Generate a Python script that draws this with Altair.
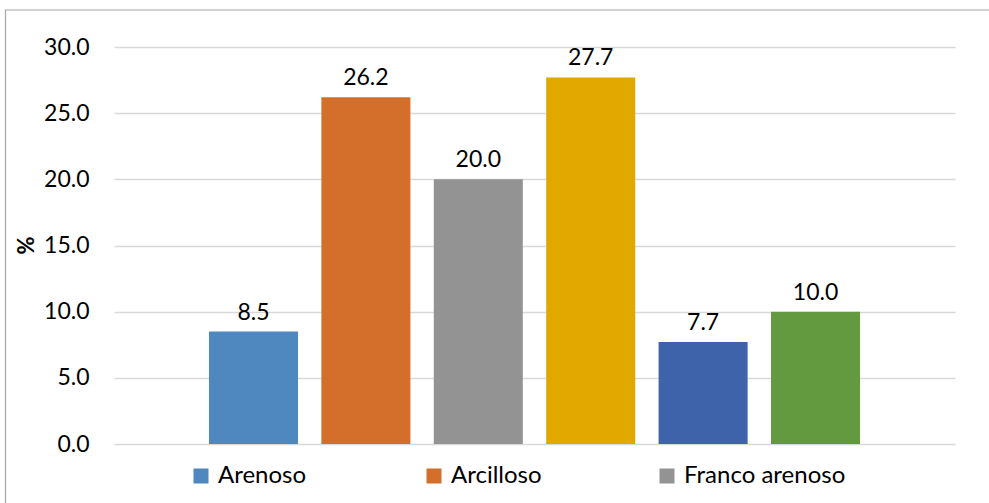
import altair as alt
import pandas as pd

# Soil texture shares (%)
series = ["Arenoso", "Arcilloso", "Franco arenoso", "Franco", "Franco arcilloso", "Franco limoso"]
values = [8.5, 26.2, 20.0, 27.7, 7.7, 10.0]
colors = ["#4f88bf", "#d36e2b", "#939393", "#e2a800", "#3e63ab", "#639a3f"]
legend_entries = ["Arenoso", "Arcilloso", "Franco arenoso"]
y_ticks = [0, 5, 10, 15, 20, 25, 30]

df = pd.DataFrame({
    "serie": series,
    "pct": values,
    "etiqueta": [f"{v:.1f}" for v in values],
})

FONT = "Lato"
FS = 23
LEG_FS = 24

x_enc = alt.X(
    "serie:N",
    sort=series,
    axis=None,
    scale=alt.Scale(paddingInner=0.208, paddingOuter=0.845),
)
y_scale = alt.Scale(domain=[0, 30], nice=False, zero=True)

bars = alt.Chart(df).mark_bar().encode(
    x=x_enc,
    y=alt.Y(
        "pct:Q",
        scale=y_scale,
        axis=alt.Axis(
            values=y_ticks,
            format=".1f",
            title="%",
            titleAngle=270,
            titleX=-88,
            titleY=198,
            titleAlign="center",
            titleBaseline="middle",
            titleFont=FONT,
            titleFontSize=22,
            titleFontWeight="bold",
            titleColor="black",
            domain=False,
            ticks=False,
            tickSize=0,
            labelPadding=25,
            labelFont=FONT,
            labelFontSize=FS,
            labelColor="black",
            gridColor="#d9d9d9",
            gridWidth=1.6,
        ),
    ),
    color=alt.Color(
        "serie:N",
        sort=series,
        scale=alt.Scale(domain=series, range=colors),
        legend=alt.Legend(
            title=None,
            values=legend_entries,
            orient="none",
            legendX=75,
            legendY=417,
            direction="horizontal",
            columns=3,
            gridAlign="all",
            columnPadding=42,
            symbolType="square",
            symbolSize=225,
            symbolStrokeWidth=0,
            symbolOpacity=1,
            labelFont=FONT,
            labelFontSize=LEG_FS,
            labelColor="black",
            labelOffset=5,
            labelLimit=400,
            padding=0,
        ),
    ),
)

labels = alt.Chart(df).mark_text(
    baseline="alphabetic", dy=-12, font=FONT, fontSize=FS, color="black"
).encode(
    x=x_enc,
    y=alt.Y("pct:Q", scale=y_scale),
    text="etiqueta:N",
)

# outer frame of the chart area
frame = alt.Chart(pd.DataFrame({"k": [0]})).mark_rect(
    fill="transparent", stroke="#a6a6a6", strokeWidth=1.2
).encode(
    x=alt.value(-108.5),
    x2=alt.value(1300),
    y=alt.value(-37),
    y2=alt.value(900),
)

chart = (
    alt.layer(frame, bars, labels)
    .properties(
        width=841,
        height=397,
        autosize=alt.AutoSizeParams(type="none"),
        padding={"left": 114, "top": 47, "right": 34, "bottom": 59},
        background="white",
    )
    .configure_view(strokeWidth=0)
)

chart.save("out.html", embed_options={"renderer": "svg", "actions": False})
